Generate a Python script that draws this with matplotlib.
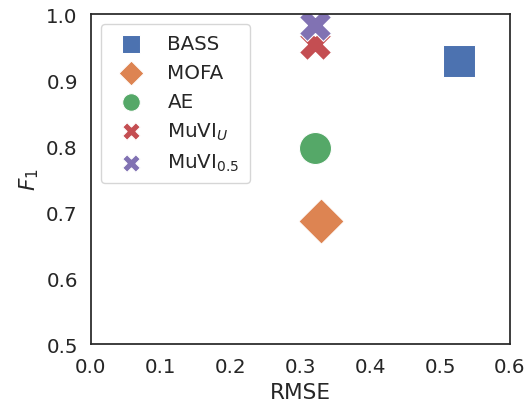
import matplotlib
matplotlib.use("Agg")
import matplotlib.pyplot as plt
import seaborn as sns

methods = ["BASS", "MOFA", "AE", "MuVI$_U$", "MuVI$_{0.5}$"]
rmse = [0.527, 0.330, 0.321, 0.321, 0.321]
f1 = [0.929, 0.686, 0.797, 0.955, 0.983]
markers = ["s", "D", "o", "X", "X"]
colors = ["#4C72B0", "#DD8452", "#55A868", "#C44E52", "#8172B3"]

sns.set_theme(style="white", context="notebook", font_scale=1.3)

fig = plt.figure(figsize=(5.29, 4.06), dpi=100)
ax = fig.add_axes([0.172, 0.150, 0.792, 0.813])

for m, x, y, mk, c in zip(methods, rmse, f1, markers, colors):
    ax.scatter([x], [y], s=530, marker=mk, color=c, label=m, edgecolors="white", linewidths=0.75)

ax.set_xlim(0.0, 0.6)
ax.set_ylim(0.5, 1.0)
ax.set_xticks([0.0, 0.1, 0.2, 0.3, 0.4, 0.5, 0.6])
ax.set_yticks([0.5, 0.6, 0.7, 0.8, 0.9, 1.0])
ax.set_xlabel("RMSE")
ax.set_ylabel("$F_1$")
ax.legend(loc="upper left", markerscale=0.55, handletextpad=0.85, borderpad=0.5)

fig.savefig("out.png", dpi=100)
